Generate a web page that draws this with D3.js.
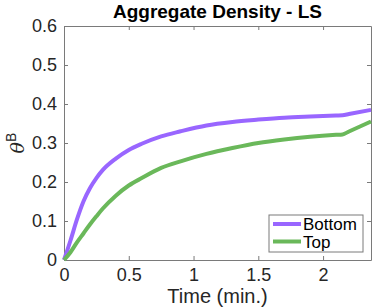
<!DOCTYPE html>
<html lang="en">
<head>
<meta charset="utf-8">
<title>Aggregate Density - LS</title>
<script src="https://d3js.org/d3.v7.min.js"></script>
<style>
	body { margin: 0; background: #fff; }
	svg { font-family: "Liberation Sans", Arial, sans-serif; }
	.axis path, .axis line { stroke: #7a7a7a; }
	.axis text { fill: #262626; font-size: 18px; }
</style>
</head>
<body>
<script>

	// values
	var time   = [0, 0.05, 0.1, 0.15, 0.2, 0.25, 0.3, 0.4, 0.5, 0.6, 0.75, 0.9, 1.1, 1.3, 1.5, 1.7, 1.9, 2.1, 2.15, 2.2, 2.37];
	var bottom = [0, 0.05, 0.104, 0.150, 0.184, 0.210, 0.231, 0.260, 0.282, 0.298, 0.317, 0.330, 0.345, 0.354, 0.360, 0.365, 0.368, 0.3705, 0.371, 0.3742, 0.385];
	var top_   = [0, 0.02, 0.045, 0.068, 0.091, 0.112, 0.132, 0.165, 0.191, 0.210, 0.236, 0.253, 0.272, 0.287, 0.300, 0.309, 0.316, 0.321, 0.322, 0.3295, 0.355];
	var seriesNames = ["Bottom", "Top"];
	var colors = ["#9966ff", "#6ab85a"];
	var xTicks = [0, 0.5, 1, 1.5, 2];
	var yTicks = [0, 0.1, 0.2, 0.3, 0.4, 0.5, 0.6];

	var width = 374, height = 308;
	var margin = {top: 26, right: 3, bottom: 48, left: 64};
	var w = width - margin.left - margin.right,
	    h = height - margin.top - margin.bottom;

	var svg = d3.select("body").append("svg")
	    .attr("width", width)
	    .attr("height", height);

	var g = svg.append("g")
	    .attr("transform", "translate(" + margin.left + "," + margin.top + ")");

	var x = d3.scaleLinear().domain([0, 2.37]).range([0, w]);
	var y = d3.scaleLinear().domain([0, 0.6]).range([h, 0]);

	// axes, ticks pointing inward, box all round
	g.append("g").attr("class", "axis")
	    .attr("transform", "translate(0," + h + ")")
	    .call(d3.axisBottom(x).tickValues(xTicks).tickFormat(d3.format("")).tickSizeInner(-4).tickSizeOuter(0).tickPadding(8));
	g.append("g").attr("class", "axis")
	    .call(d3.axisTop(x).tickValues(xTicks).tickFormat("").tickSizeInner(-4).tickSizeOuter(0));
	g.append("g").attr("class", "axis")
	    .call(d3.axisLeft(y).tickValues(yTicks).tickFormat(d3.format("")).tickSizeInner(-4).tickSizeOuter(0).tickPadding(7));
	g.append("g").attr("class", "axis")
	    .attr("transform", "translate(" + w + ",0)")
	    .call(d3.axisRight(y).tickValues(yTicks).tickFormat("").tickSizeInner(-4).tickSizeOuter(0));

	var line = d3.line()
	    .x(function(d) { return x(d[0]); })
	    .y(function(d) { return y(d[1]); })
	    .curve(d3.curveMonotoneX);

	[bottom, top_].forEach(function(vals, i) {
		g.append("path")
		    .datum(d3.zip(time, vals))
		    .attr("fill", "none")
		    .attr("stroke", colors[i])
		    .attr("stroke-width", 4)
		    .attr("d", line);
	});

	// title and labels
	svg.append("text")
	    .attr("x", margin.left + w / 2).attr("y", 18)
	    .attr("text-anchor", "middle")
	    .style("font-weight", "bold").style("font-size", "19px").style("fill", "#000")
	    .text("Aggregate Density - LS");

	svg.append("text")
	    .attr("x", margin.left + w / 2).attr("y", 303)
	    .attr("text-anchor", "middle")
	    .style("font-size", "20px").style("fill", "#262626")
	    .text("Time (min.)");

	var yl = svg.append("text")
	    .attr("transform", "translate(24," + (margin.top + h / 2) + ") rotate(-90)")
	    .attr("text-anchor", "middle")
	    .style("font-size", "19px").style("fill", "#262626");
	yl.append("tspan").style("font-style", "italic").style("font-family", "'DejaVu Serif', serif").text("θ");
	yl.append("tspan").attr("dy", -8).style("font-size", "14px").text("B");

	// legend
	var lg = svg.append("g").attr("transform", "translate(269,215)");
	lg.append("rect")
	    .attr("width", 94).attr("height", 37)
	    .attr("fill", "#fff").attr("stroke", "#7a7a7a");
	seriesNames.forEach(function(name, i) {
		var yy = 9 + i * 17.5;
		lg.append("line")
		    .attr("x1", 4).attr("x2", 32).attr("y1", yy).attr("y2", yy)
		    .attr("stroke", colors[i]).attr("stroke-width", 4);
		lg.append("text")
		    .attr("x", 34).attr("y", yy + 6)
		    .style("font-size", "17px").style("fill", "#000")
		    .text(name);
	});

</script>
</body>
</html>
